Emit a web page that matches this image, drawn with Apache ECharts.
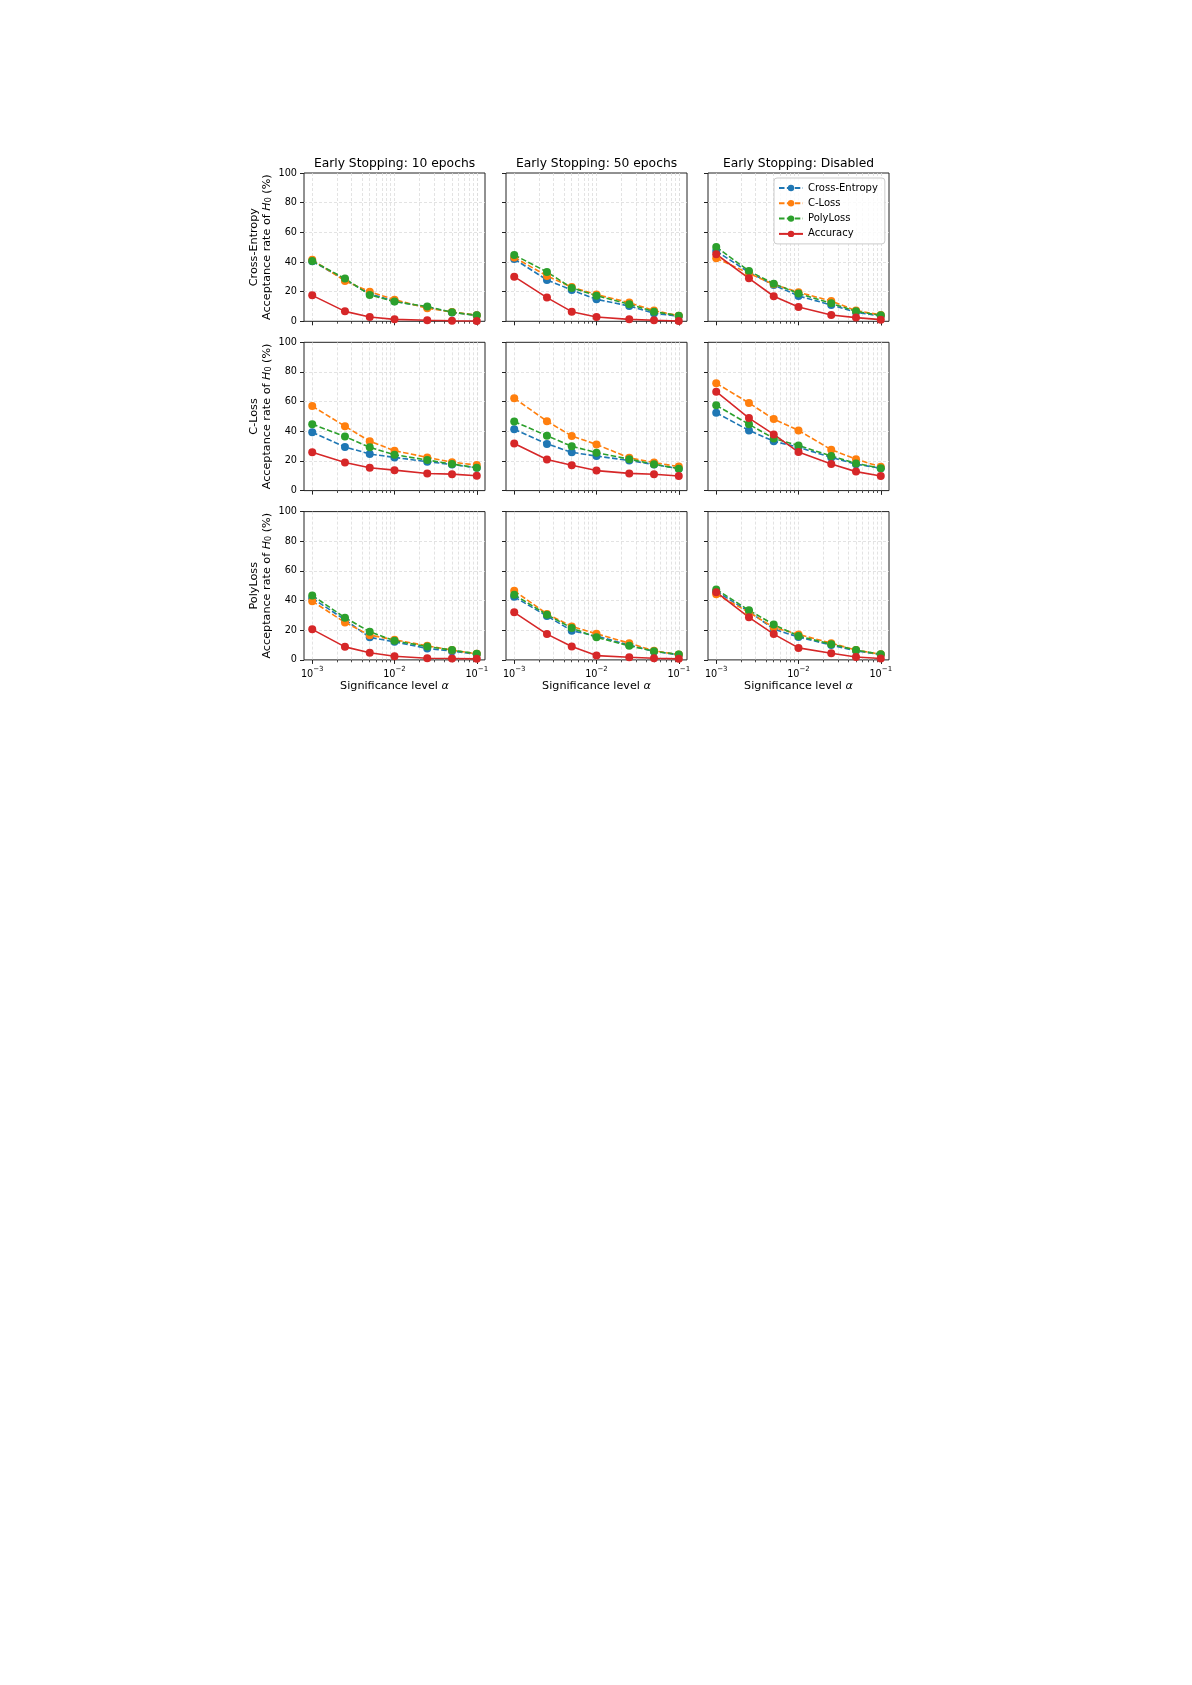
<!DOCTYPE html>
<html><head><meta charset="utf-8">
<script src="https://cdn.jsdelivr.net/npm/echarts@6/dist/echarts.min.js"></script>
<style>html,body{margin:0;padding:0;background:#fff}#c{width:1192px;height:1685px}</style>
</head><body><div id="c"></div>
<script>
// ---------- data ----------
const alphas = [0.001, 0.0025, 0.005, 0.01, 0.025, 0.05, 0.1];
const seriesNames = ['Cross-Entropy', 'C-Loss', 'PolyLoss', 'Accuracy'];
const rowLabels = ['Cross-Entropy', 'C-Loss', 'PolyLoss'];
const colTitles = ['Early Stopping: 10 epochs', 'Early Stopping: 50 epochs', 'Early Stopping: Disabled'];
const yTicks = [0, 20, 40, 60, 80, 100];
const xRange = [0.001, 0.1];

// Row 1: Cross-Entropy
const ce10_CE  = [40.5, 28.0, 18.5, 13.5, 9.5, 6.0, 4.0];
const ce10_CL  = [41.5, 27.2, 20.0, 14.6, 8.8, 6.3, 4.1];
const ce10_PL  = [40.7, 28.8, 17.8, 13.3, 9.9, 6.1, 4.0];
const ce10_ACC = [17.5, 6.7, 2.9, 1.3, 0.7, 0.4, 0.2];
const ce50_CE  = [42.0, 27.9, 21.1, 14.8, 10.3, 5.4, 3.4];
const ce50_CL  = [43.1, 30.6, 23.1, 18.0, 12.6, 7.2, 3.8];
const ce50_PL  = [44.7, 33.3, 22.5, 17.3, 11.5, 6.5, 3.8];
const ce50_ACC = [30.1, 16.0, 6.5, 2.9, 1.3, 0.7, 0.2];
const ceDis_CE  = [47.4, 33.0, 24.5, 17.1, 11.0, 6.1, 3.6];
const ceDis_CL  = [42.5, 32.4, 24.9, 19.6, 13.7, 7.2, 4.3];
const ceDis_PL  = [50.1, 33.9, 25.4, 18.7, 12.1, 6.7, 4.0];
const ceDis_ACC = [45.2, 29.0, 16.9, 9.7, 4.3, 2.5, 1.1];
// Row 2: C-Loss
const cl10_CE  = [39.4, 29.4, 24.7, 22.4, 19.5, 17.6, 15.4];
const cl10_CL  = [57.0, 43.4, 33.3, 26.9, 22.4, 19.2, 17.2];
const cl10_PL  = [44.8, 36.4, 29.2, 24.2, 20.6, 17.9, 15.4];
const cl10_ACC = [25.8, 19.0, 15.4, 13.8, 11.5, 11.1, 10.0];
const cl50_CE  = [41.3, 31.5, 25.8, 23.3, 20.3, 17.6, 14.8];
const cl50_CL  = [62.3, 46.8, 36.8, 31.1, 22.1, 18.9, 16.2];
const cl50_PL  = [46.6, 37.0, 29.9, 25.6, 21.2, 17.8, 14.8];
const cl50_ACC = [31.7, 21.0, 17.1, 13.5, 11.6, 11.0, 9.8];
const clDis_CE  = [52.5, 40.6, 33.3, 29.2, 22.4, 17.8, 15.1];
const clDis_CL  = [72.4, 59.1, 48.2, 40.6, 27.6, 21.2, 16.0];
const clDis_PL  = [57.5, 44.7, 35.2, 30.4, 23.3, 18.3, 15.1];
const clDis_ACC = [66.7, 48.9, 37.9, 26.0, 18.0, 12.8, 9.8];
// Row 3: PolyLoss
const pl10_CE  = [41.6, 27.1, 15.2, 12.2, 7.7, 5.9, 3.8];
const pl10_CL  = [39.6, 25.3, 16.7, 13.6, 9.5, 6.6, 4.1];
const pl10_PL  = [43.4, 28.5, 19.0, 12.9, 9.0, 6.6, 4.1];
const pl10_ACC = [20.6, 8.8, 4.8, 2.5, 1.1, 0.9, 0.7];
const pl50_CE  = [42.5, 29.6, 19.7, 16.1, 10.0, 5.7, 3.4];
const pl50_CL  = [46.6, 31.0, 22.6, 17.6, 11.3, 6.1, 3.6];
const pl50_PL  = [43.9, 30.5, 21.5, 15.2, 9.5, 5.9, 3.6];
const pl50_ACC = [32.1, 17.4, 9.0, 2.9, 1.8, 1.1, 0.7];
const plDis_CE  = [46.2, 32.6, 20.8, 15.4, 10.0, 6.1, 3.6];
const plDis_CL  = [44.3, 32.1, 21.9, 17.2, 11.3, 6.6, 3.8];
const plDis_PL  = [47.5, 33.5, 23.8, 16.1, 10.6, 6.6, 3.8];
const plDis_ACC = [45.7, 28.7, 17.4, 8.1, 4.5, 2.0, 0.9];

const panels = [
  [ce10_CE, ce10_CL, ce10_PL, ce10_ACC], [ce50_CE, ce50_CL, ce50_PL, ce50_ACC], [ceDis_CE, ceDis_CL, ceDis_PL, ceDis_ACC],
  [cl10_CE, cl10_CL, cl10_PL, cl10_ACC], [cl50_CE, cl50_CL, cl50_PL, cl50_ACC], [clDis_CE, clDis_CL, clDis_PL, clDis_ACC],
  [pl10_CE, pl10_CL, pl10_PL, pl10_ACC], [pl50_CE, pl50_CL, pl50_PL, pl50_ACC], [plDis_CE, plDis_CL, plDis_PL, plDis_ACC]
];

// ---------- style / layout ----------
const FONT = 'DejaVu Sans';
const colors = ['#1f77b4', '#ff7f0e', '#2ca02c', '#d62728'];
const dashed = [true, true, true, false];
const colLeft = [304, 506, 708];
const rowTop = [173, 342.3, 511.6];
const W = 181, H = 148.3;
// matplotlib-style 5% margin on each side of the log x-range (0.1 decade of 2.2)
const MARGIN_FRAC = 0.1 / 2.2;
const gridLineStyle = { color: '#dcdcdc', width: 0.8, type: [3, 2] };

const grids = [], xAxes = [], yAxes = [], series = [];
for (let r = 0; r < 3; r++) {
  for (let c = 0; c < 3; c++) {
    const g = r * 3 + c;
    const frameIdx = 2 * g, dataIdx = 2 * g + 1;
    // frame grid (box, y ticks, y grid)
    grids.push({ left: colLeft[c], top: rowTop[r], width: W, height: H, show: true,
      borderColor: '#222', borderWidth: 1, backgroundColor: 'transparent' });
    // data grid (log x-range 1e-3 .. 1e-1)
    grids.push({ left: colLeft[c] + W * MARGIN_FRAC, top: rowTop[r], width: W * (1 - 2 * MARGIN_FRAC), height: H, show: false });

    xAxes.push({ type: 'value', gridIndex: frameIdx, min: 0, max: 1, show: false });
    xAxes.push({
      type: 'log', logBase: 10, gridIndex: dataIdx, min: xRange[0], max: xRange[1], position: 'bottom',
      axisLine: { show: false },
      axisTick: { show: true, inside: false, length: 4, lineStyle: { color: '#222', width: 1 } },
      minorTick: { show: true, splitNumber: 9, length: 2.4, lineStyle: { color: '#222', width: 0.8 } },
      splitLine: { show: true, lineStyle: gridLineStyle },
      minorSplitLine: { show: true, lineStyle: gridLineStyle },
      axisLabel: {
        show: r === 2, margin: 6, color: '#000', fontFamily: FONT,
        formatter: function (v) {
          const e = Math.log10(v);
          if (Math.abs(e - Math.round(e)) < 1e-6) return '{b|10}{s|\u2212' + Math.abs(Math.round(e)) + '}';
          return '';
        },
        rich: {
          b: { fontSize: 9.7, fontFamily: FONT, color: '#000', lineHeight: 14, verticalAlign: 'bottom' },
          s: { fontSize: 7, fontFamily: FONT, color: '#000', lineHeight: 6, verticalAlign: 'top' }
        }
      },
      name: r === 2 ? 'Significance level {i|\u03b1}' : '',
      nameLocation: 'middle', nameGap: 21,
      nameTextStyle: { fontSize: 11.2, fontFamily: FONT, color: '#000',
        rich: { i: { fontSize: 11.2, fontFamily: FONT, fontStyle: 'italic', color: '#000' } } }
    });

    yAxes.push({
      type: 'value', gridIndex: frameIdx, min: yTicks[0], max: yTicks[yTicks.length - 1], interval: yTicks[1] - yTicks[0],
      axisLine: { show: false },
      axisTick: { show: true, inside: false, length: 4, lineStyle: { color: '#222', width: 1 } },
      splitLine: { show: true, showMinLine: false, showMaxLine: false, lineStyle: gridLineStyle },
      axisLabel: { show: c === 0, margin: 7, fontSize: 9.7, fontFamily: FONT, color: '#000' },
      name: c === 0 ? rowLabels[r] + '\n{t|Acceptance rate of }{i|H}{s|0}{t| (%)}' : '',
      nameLocation: 'middle', nameRotate: 90, nameGap: 31,
      nameTextStyle: { fontSize: 11.2, fontFamily: FONT, color: '#000', lineHeight: 12.8, align: 'center',
        rich: {
          t: { fontSize: 11.2, fontFamily: FONT, color: '#000', lineHeight: 12.8 },
          i: { fontSize: 11.2, fontFamily: FONT, fontStyle: 'italic', color: '#000', lineHeight: 12.8 },
          s: { fontSize: 8, fontFamily: FONT, color: '#000', lineHeight: 6, verticalAlign: 'bottom' }
        } }
    });
    yAxes.push({ type: 'value', gridIndex: dataIdx, min: yTicks[0], max: yTicks[yTicks.length - 1], show: false });

    panels[g].forEach(function (vals, k) {
      series.push({
        name: seriesNames[k], type: 'line', xAxisIndex: dataIdx, yAxisIndex: dataIdx,
        data: alphas.map(function (a, i) { return [a, vals[i]]; }),
        symbol: 'circle', symbolSize: 8, showSymbol: true, clip: false,
        itemStyle: { color: colors[k] },
        lineStyle: { color: colors[k], width: 1.6, type: dashed[k] ? [5.5, 2.4] : 'solid' },
        emphasis: { disabled: true }, animation: false
      });
    });
  }
}

const titles = colTitles.map(function (t, c) {
  return { text: t, left: colLeft[c] + W / 2, top: 157, textAlign: 'center', textVerticalAlign: 'top', padding: 0,
    textStyle: { fontSize: 12.3, fontWeight: 'normal', color: '#000', fontFamily: FONT, lineHeight: 14 } };
});

const chart = echarts.init(document.getElementById('c'), null, { renderer: 'canvas' });
chart.setOption({
  backgroundColor: '#fff',
  animation: false,
  title: titles,
  legend: {
    data: seriesNames, orient: 'vertical', left: 774, top: 178, selectedMode: false,
    itemWidth: 24, itemHeight: 8, itemGap: 3.3, padding: [4, 7, 4, 4],
    backgroundColor: 'rgba(255,255,255,0.8)', borderColor: '#cccccc', borderWidth: 1, borderRadius: 3,
    textStyle: { fontSize: 10, fontFamily: FONT, color: '#000', lineHeight: 12 }
  },
  grid: grids, xAxis: xAxes, yAxis: yAxes, series: series
});
</script></body></html>
